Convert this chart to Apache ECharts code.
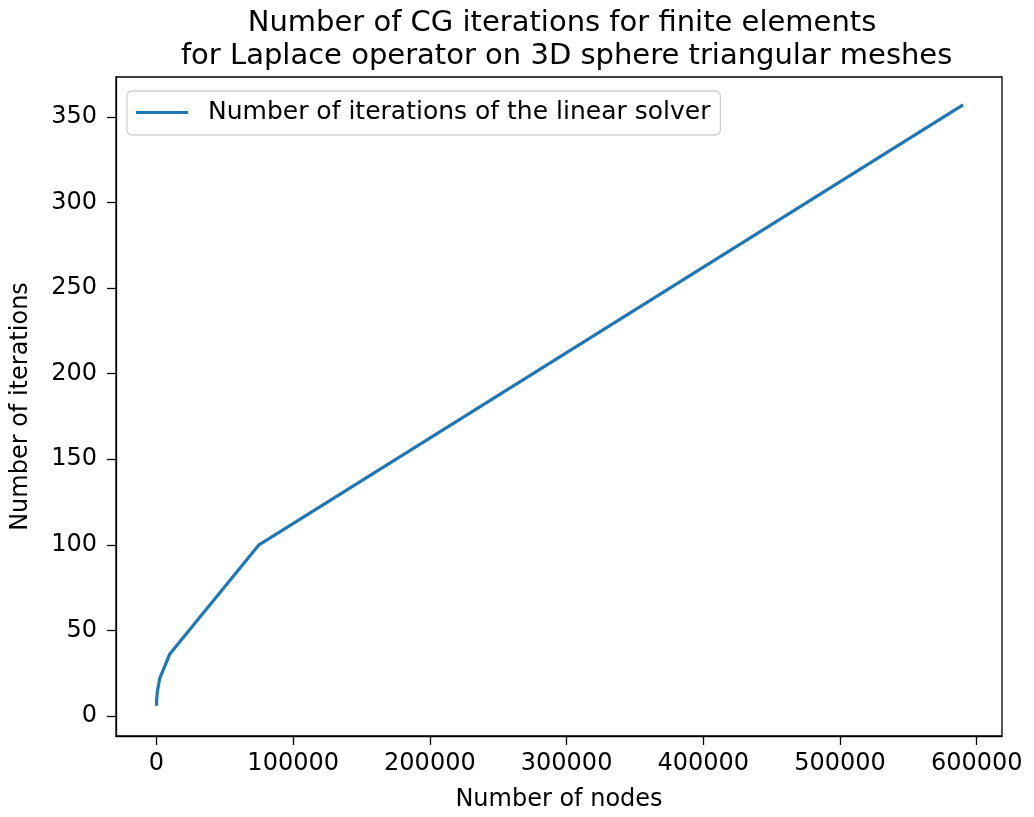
<!DOCTYPE html>
<html>
<head>
<meta charset="utf-8">
<script src="https://cdn.jsdelivr.net/npm/echarts@6/dist/echarts.min.js"></script>
<style>
  html, body { margin: 0; padding: 0; background: #fff; }
  #chart { width: 1034px; height: 817px; }
</style>
</head>
<body>
<div id="chart"></div>
<script>
// values
const nodes = [40, 150, 600, 2400, 9600, 75000, 590000];
const iterations = [6, 10, 14, 22, 36, 100, 357];
const xTicks = [0, 100000, 200000, 300000, 400000, 500000, 600000];
const yTicks = [0, 50, 100, 150, 200, 250, 300, 350];

const seriesName = "Number of iterations of the linear solver";
const font = "DejaVu Sans";

function renderChart() {
  const chart = echarts.init(document.querySelector("#chart"));

  const options = {
    animation: false,
    title: {
      text: "Number of CG iterations for finite elements\n for Laplace operator on 3D sphere triangular meshes",
      left: 557,
      textAlign: "center",
      top: 2,
      textStyle: {
        fontFamily: font,
        fontWeight: "normal",
        fontSize: 29,
        lineHeight: 33,
        color: "#000",
      },
    },
    legend: {
      left: 127,
      top: 91,
      padding: [9, 10, 10, 9],
      borderColor: "#d0d0d0",
      borderWidth: 1.3,
      borderRadius: 5,
      itemWidth: 52,
      itemHeight: 3,
      icon: "rect",
      textStyle: {
        fontFamily: font,
        fontSize: 25,
        color: "#000",
        padding: [0, 0, 0, 15],
      },
      data: [seriesName],
    },
    grid: {
      left: 116,
      right: 32,
      top: 77,
      bottom: 80,
      show: true,
      borderColor: "#000",
      borderWidth: 1.3,
    },
    xAxis: {
      type: "value",
      min: -29600,
      max: 618500,
      name: "Number of nodes",
      nameLocation: "middle",
      nameGap: 52,
      nameTextStyle: { fontFamily: font, fontSize: 24, color: "#000" },
      axisLine: { show: true, onZero: false, lineStyle: { color: "#000", width: 1.3 } },
      axisTick: {
        show: true,
        length: 9,
        inside: false,
        customValues: xTicks,
        lineStyle: { color: "#000", width: 1.3 },
      },
      axisLabel: {
        customValues: xTicks,
        formatter: (v) => String(v),
        margin: 16,
        fontFamily: font,
        fontSize: 24,
        color: "#000",
      },
      splitLine: { show: false },
    },
    yAxis: {
      type: "value",
      min: -11.7,
      max: 373.3,
      name: "Number of iterations",
      nameLocation: "middle",
      nameGap: 83,
      nameRotate: 90,
      nameTextStyle: { fontFamily: font, fontSize: 24, color: "#000" },
      axisLine: { show: true, onZero: false, lineStyle: { color: "#000", width: 1.3 } },
      axisTick: {
        show: true,
        length: 9,
        inside: false,
        customValues: yTicks,
        lineStyle: { color: "#000", width: 1.3 },
      },
      axisLabel: {
        customValues: yTicks,
        formatter: (v) => String(v),
        margin: 19,
        fontFamily: font,
        fontSize: 24,
        color: "#000",
      },
      splitLine: { show: false },
    },
    series: [
      {
        name: seriesName,
        type: "line",
        symbol: "none",
        color: "#1f77b4",
        lineStyle: { width: 3.2, color: "#1f77b4" },
        data: nodes.map((n, i) => [n, iterations[i]]),
      },
    ],
  };

  chart.setOption(options);
}

document.addEventListener("DOMContentLoaded", renderChart);
</script>
</body>
</html>
